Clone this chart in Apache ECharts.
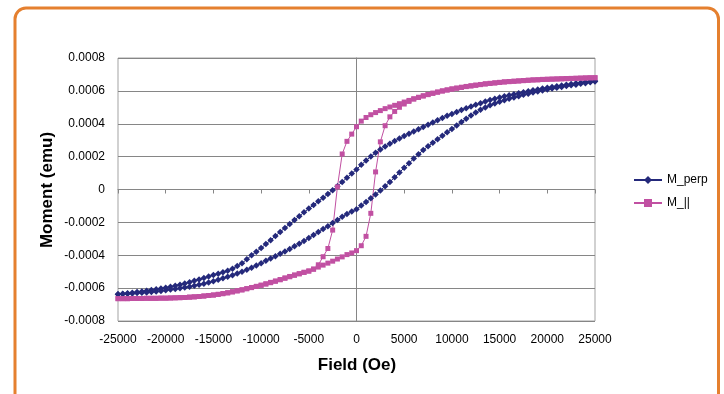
<!DOCTYPE html>
<html>
<head>
<meta charset="utf-8">
<script src="https://cdn.jsdelivr.net/npm/echarts@6/dist/echarts.min.js"></script>
<style>
  html, body { margin: 0; padding: 0; background: #ffffff; }
  #chart { width: 724px; height: 394px; }
</style>
</head>
<body>
<div id="chart"></div>
<script>
// Applied field for the descending sweep (Oe); the ascending sweep runs back through the same steps.
const fieldDown = [
  25000, 24500, 24000, 23500, 23000, 22500, 22000, 21500, 21000, 20500,
  20000, 19500, 19000, 18500, 18000, 17500, 17000, 16500, 16000, 15500,
  15000, 14500, 14000, 13500, 13000, 12500, 12000, 11500, 11000, 10500,
  10000, 9500, 9000, 8500, 8000, 7500, 7000, 6500, 6000, 5500,
  5000, 4500, 4000, 3500, 3000, 2500, 2000, 1500, 1000, 500,
  0, -500, -1000, -1500, -2000, -2500, -3000, -3500, -4000, -4500,
  -5000, -5500, -6000, -6500, -7000, -7500, -8000, -8500, -9000, -9500,
  -10000, -10500, -11000, -11500, -12000, -12500, -13000, -13500, -14000, -14500,
  -15000, -15500, -16000, -16500, -17000, -17500, -18000, -18500, -19000, -19500,
  -20000, -20500, -21000, -21500, -22000, -22500, -23000, -23500, -24000, -24500,
  -25000
];
const fieldUp = fieldDown.slice().reverse();

// Moments below are in units of 1e-4 emu.
const MOMENT_UNIT = 1e-4;

// M_perp, descending sweep (+25000 -> -25000 Oe)
const perpDown = [
  6.60, 6.57, 6.54, 6.50, 6.46, 6.42, 6.37, 6.33, 6.28, 6.24,
  6.19, 6.14, 6.09, 6.04, 5.98, 5.92, 5.86, 5.80, 5.74, 5.67,
  5.60, 5.52, 5.44, 5.35, 5.25, 5.15, 5.05, 4.95, 4.84, 4.72,
  4.60, 4.48, 4.35, 4.22, 4.08, 3.94, 3.80, 3.66, 3.53, 3.39,
  3.25, 3.10, 2.95, 2.79, 2.62, 2.44, 2.24, 2.01, 1.76, 1.50,
  1.22, 0.97, 0.72, 0.46, 0.20, -0.04, -0.28, -0.50, -0.72, -0.94,
  -1.16, -1.39, -1.62, -1.86, -2.10, -2.34, -2.58, -2.83, -3.08, -3.32,
  -3.56, -3.78, -4.00, -4.25, -4.48, -4.66, -4.82, -4.94, -5.04, -5.12,
  -5.20, -5.29, -5.38, -5.47, -5.55, -5.64, -5.72, -5.79, -5.86, -5.92,
  -5.97, -6.02, -6.07, -6.12, -6.16, -6.20, -6.24, -6.28, -6.31, -6.34,
  -6.37
];
// M_perp, ascending sweep (-25000 -> +25000 Oe)
const perpUp = [
  -6.37, -6.36, -6.34, -6.32, -6.30, -6.28, -6.26, -6.23, -6.20, -6.17,
  -6.13, -6.09, -6.05, -6.01, -5.96, -5.91, -5.85, -5.79, -5.73, -5.66,
  -5.58, -5.49, -5.40, -5.31, -5.22, -5.11, -5.00, -4.88, -4.76, -4.62,
  -4.48, -4.34, -4.20, -4.06, -3.91, -3.77, -3.62, -3.46, -3.30, -3.13,
  -2.95, -2.77, -2.59, -2.41, -2.23, -2.04, -1.85, -1.66, -1.49, -1.34,
  -1.20, -0.98, -0.76, -0.53, -0.30, -0.06, 0.20, 0.46, 0.74, 1.03,
  1.32, 1.60, 1.88, 2.15, 2.40, 2.63, 2.85, 3.06, 3.27, 3.48,
  3.68, 3.90, 4.11, 4.31, 4.50, 4.68, 4.85, 4.99, 5.12, 5.23,
  5.34, 5.43, 5.52, 5.60, 5.68, 5.76, 5.83, 5.90, 5.96, 6.02,
  6.08, 6.14, 6.19, 6.24, 6.29, 6.34, 6.38, 6.43, 6.47, 6.52,
  6.57
];
// M_||, descending sweep (+25000 -> -25000 Oe)
const parDown = [
  6.80, 6.80, 6.79, 6.78, 6.77, 6.76, 6.75, 6.74, 6.73, 6.72,
  6.71, 6.70, 6.68, 6.67, 6.65, 6.63, 6.61, 6.59, 6.57, 6.55,
  6.52, 6.49, 6.46, 6.43, 6.39, 6.35, 6.31, 6.27, 6.22, 6.17,
  6.12, 6.06, 6.00, 5.93, 5.86, 5.78, 5.70, 5.61, 5.52, 5.42,
  5.32, 5.22, 5.12, 5.02, 4.92, 4.80, 4.68, 4.55, 4.38, 4.16,
  3.82, 3.37, 2.93, 2.16, 0.16, -2.47, -3.59, -4.09, -4.58, -4.84,
  -4.96, -5.04, -5.12, -5.20, -5.29, -5.38, -5.48, -5.57, -5.65, -5.74,
  -5.82, -5.89, -5.96, -6.03, -6.10, -6.16, -6.22, -6.28, -6.33, -6.38,
  -6.42, -6.45, -6.48, -6.51, -6.53, -6.55, -6.57, -6.58, -6.59, -6.60,
  -6.61, -6.61, -6.62, -6.62, -6.62, -6.63, -6.63, -6.63, -6.64, -6.64,
  -6.64
];
// M_||, ascending sweep (-25000 -> +25000 Oe)
const parUp = [
  -6.64, -6.64, -6.64, -6.63, -6.63, -6.63, -6.62, -6.62, -6.62, -6.61,
  -6.61, -6.60, -6.59, -6.58, -6.57, -6.55, -6.53, -6.51, -6.48, -6.45,
  -6.42, -6.38, -6.34, -6.29, -6.23, -6.17, -6.11, -6.04, -5.97, -5.90,
  -5.83, -5.75, -5.67, -5.58, -5.49, -5.40, -5.31, -5.22, -5.13, -5.04,
  -4.96, -4.85, -4.72, -4.60, -4.48, -4.36, -4.23, -4.10, -3.96, -3.86,
  -3.72, -3.42, -2.85, -1.45, 1.07, 2.90, 3.88, 4.42, 4.75, 5.00,
  5.20, 5.36, 5.50, 5.60, 5.69, 5.77, 5.85, 5.92, 5.99, 6.05,
  6.11, 6.16, 6.21, 6.26, 6.30, 6.34, 6.38, 6.42, 6.45, 6.48,
  6.51, 6.54, 6.56, 6.58, 6.60, 6.62, 6.64, 6.66, 6.67, 6.69,
  6.70, 6.71, 6.72, 6.73, 6.74, 6.75, 6.76, 6.77, 6.78, 6.79,
  6.80
];

// Axis tick labels
const fieldTickLabels = ['-25000', '-20000', '-15000', '-10000', '-5000', '0',
  '5000', '10000', '15000', '20000', '25000'];
const momentTickLabels = ['-0.0008', '-0.0006', '-0.0004', '-0.0002', '0',
  '0.0002', '0.0004', '0.0006', '0.0008'];

const seriesNames = ['M_perp', 'M_||'];
const xTitle = 'Field (Oe)';
const yTitle = 'Moment (emu)';

// One closed loop per series: descending sweep followed by the ascending sweep.
function loop(down, up) {
  return fieldDown.map((h, i) => [h, down[i] * MOMENT_UNIT])
    .concat(fieldUp.map((h, i) => [h, up[i] * MOMENT_UNIT]));
}

const FONT = '"Liberation Sans", Arial, sans-serif';
const NAVY = '#24297b';
const PINK = '#c150a2';
const GRID_LINE = '#868686';

const chart = echarts.init(document.getElementById('chart'), null, { renderer: 'canvas' });

chart.setOption({
  animation: false,
  backgroundColor: '#ffffff',
  textStyle: { fontFamily: FONT },
  graphic: [
    {
      type: 'rect',
      shape: { x: 15, y: 8, width: 703.5, height: 430, r: 11 },
      style: { fill: 'none', stroke: '#e5802f', lineWidth: 3 },
      silent: true
    },
    {
      type: 'text',
      x: 357, y: 365,
      style: {
        text: xTitle, fontFamily: FONT, fontWeight: 'bold', fontSize: 17,
        fill: '#000', textAlign: 'center', textVerticalAlign: 'middle'
      }
    },
    {
      type: 'text',
      x: 47, y: 190, rotation: Math.PI / 2,
      style: {
        text: yTitle, fontFamily: FONT, fontWeight: 'bold', fontSize: 17,
        fill: '#000', textAlign: 'center', textVerticalAlign: 'middle'
      }
    }
  ],
  grid: {
    left: 118, top: 58, width: 477, height: 263,
    show: true, borderColor: '#a3a3a3', borderWidth: 1,
    backgroundColor: '#ffffff'
  },
  legend: {
    orient: 'vertical',
    left: 628, top: 169,
    itemWidth: 28, itemHeight: 10, itemGap: 11,
    textStyle: { fontFamily: FONT, fontSize: 12, color: '#000' },
    data: seriesNames
  },
  xAxis: [
    {
      type: 'value', min: -25000, max: 25000, interval: 5000,
      position: 'bottom',
      axisLine: { show: false, onZero: false },
      axisTick: { show: false },
      splitLine: { show: false },
      axisLabel: {
        margin: 13, fontSize: 12, color: '#000', fontFamily: FONT,
        formatter: v => fieldTickLabels[Math.round((v + 25000) / 5000)]
      }
    },
    {
      type: 'value', min: -25000, max: 25000, interval: 5000,
      position: 'bottom',
      axisLine: { show: true, onZero: true, lineStyle: { color: GRID_LINE, width: 1 } },
      axisTick: { show: true, length: 4, lineStyle: { color: GRID_LINE } },
      axisLabel: { show: false },
      splitLine: { show: false }
    }
  ],
  yAxis: [
    {
      type: 'value', min: -0.0008, max: 0.0008, interval: 0.0002,
      position: 'left',
      axisLine: { show: false, onZero: false },
      axisTick: { show: false },
      splitLine: { show: true, lineStyle: { color: GRID_LINE, width: 1 } },
      axisLabel: {
        margin: 13, fontSize: 12, color: '#000', fontFamily: FONT,
        formatter: v => momentTickLabels[Math.round((v + 0.0008) / 0.0002)]
      }
    },
    {
      type: 'value', min: -0.0008, max: 0.0008, interval: 0.0002,
      position: 'left',
      axisLine: { show: true, onZero: true, lineStyle: { color: GRID_LINE, width: 1 } },
      axisTick: { show: true, length: 4, lineStyle: { color: GRID_LINE } },
      axisLabel: { show: false },
      splitLine: { show: false }
    }
  ],
  series: [
    {
      name: seriesNames[0], type: 'line',
      xAxisIndex: 0, yAxisIndex: 0,
      data: loop(perpDown, perpUp),
      symbol: 'diamond', symbolSize: 6.5, showSymbol: true,
      lineStyle: { color: NAVY, width: 1 },
      itemStyle: { color: NAVY },
      emphasis: { disabled: true }
    },
    {
      name: seriesNames[1], type: 'line',
      xAxisIndex: 0, yAxisIndex: 0,
      data: loop(parDown, parUp),
      symbol: 'rect', symbolSize: 5, showSymbol: true,
      lineStyle: { color: PINK, width: 1 },
      itemStyle: { color: PINK },
      emphasis: { disabled: true }
    }
  ]
});
</script>
</body>
</html>
